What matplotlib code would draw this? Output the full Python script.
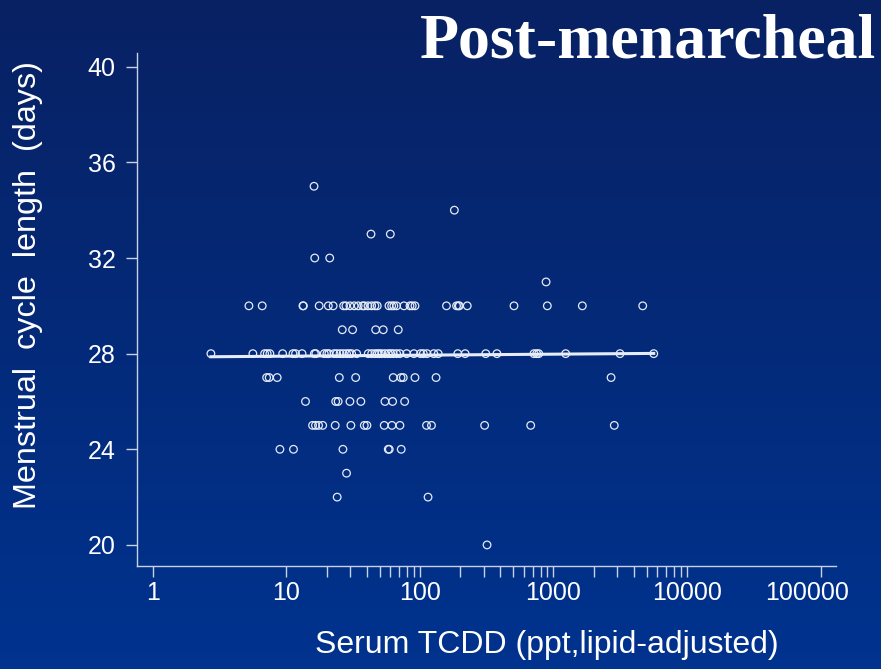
import matplotlib.pyplot as plt
import matplotlib.transforms as mtransforms
import numpy as np

# serum TCDD (ppt) for each observed cycle length (days)
tcdd_35 = [16.1]
tcdd_34 = [181]
tcdd_33 = [43, 60]
tcdd_32 = [16.3, 21.1]
tcdd_31 = [880]
tcdd_30 = [5.24, 6.59, 13.3, 13.4, 17.6, 20.6, 22.4, 26.8, 27.9, 29.9, 32.2, 34.5,
           37.2, 38.3, 40.8, 43.5, 46.0, 47.9, 58.6, 61.4, 63.8, 66.9, 75.9, 84.2,
           87.5, 91.8, 158, 188, 194, 197, 226, 506, 899, 1644, 4656]
tcdd_29 = [26.2, 31.3, 46.6, 53.1, 68.8]
tcdd_28 = [2.72, 5.61, 6.87, 7.18, 7.52, 9.37, 11.2, 11.7, 13.1, 16.2, 16.6, 19.2,
           20.1, 20.8, 22.7, 23.8, 25.2, 26.6, 28.2, 29.5, 30.8, 33.6, 41.0, 43.5,
           46.0, 47.9, 49.6, 51.6, 54.7, 57.9, 60.3, 63.1, 66.9, 70.8, 79.5, 90.1,
           101, 106, 113, 127, 137, 192, 218, 311, 377, 714, 748, 775, 1234, 3148, 5632]
tcdd_27 = [7.11, 7.43, 8.53, 24.9, 33.0, 63.1, 72.1, 75.0, 91.8, 132, 2698]
tcdd_26 = [13.9, 23.4, 24.4, 29.9, 36.1, 54.7, 62.4, 76.8]
tcdd_25 = [15.7, 16.5, 17.4, 18.7, 23.2, 30.4, 38.3, 40.1, 54.0, 61.7, 70.8, 112,
           122, 305, 675, 2852]
tcdd_24 = [8.94, 11.3, 26.5, 57.9, 58.9, 72.4]
tcdd_23 = [28.2]
tcdd_22 = [24.0, 115]
tcdd_20 = [318]

groups = {35: tcdd_35, 34: tcdd_34, 33: tcdd_33, 32: tcdd_32, 31: tcdd_31,
          30: tcdd_30, 29: tcdd_29, 28: tcdd_28, 27: tcdd_27, 26: tcdd_26,
          25: tcdd_25, 24: tcdd_24, 23: tcdd_23, 22: tcdd_22, 20: tcdd_20}
x = np.concatenate([np.array(v, float) for v in groups.values()])
y = np.concatenate([np.full(len(v), k, float) for k, v in groups.items()])

# fitted line
fit_x = [2.72, 5632]
fit_y = [27.87, 28.01]

xticks = [1, 10, 100, 1000, 10000, 100000]
xticklabels = ['1', '10', '100', '1000', '10000', '100000']
yticks = [20, 24, 28, 32, 36, 40]

fig = plt.figure(figsize=(8.81, 6.69), dpi=100)

# background gradient
bg = fig.add_axes([0, 0, 1, 1], zorder=-10)
top = np.array([8, 33, 99]) / 255
bot = np.array([0, 51, 143]) / 255
t = np.linspace(0, 1, 256)[:, None]
grad = (top[None, :] * (1 - t) + bot[None, :] * t)[:, None, :]
bg.imshow(grad, aspect='auto', extent=[0, 1, 0, 1])
bg.axis('off')

ax = fig.add_axes([0.155, 0.154, 0.794, 0.767])
ax.patch.set_alpha(0)

ax.scatter(x, y, s=30, facecolors='none', edgecolors='#e4eaf6', linewidths=0.9, zorder=3)
ax.plot(fit_x, fit_y, color='#e6ecf8', lw=2.2, zorder=4)

ax.set_xscale('log')
ax.set_xlim(0.755, 130600)
ax.set_ylim(19.12, 40.58)

ax.set_xticks(xticks)
ax.set_xticklabels(xticklabels)
minors = [m * d for d in (10, 100, 1000) for m in range(2, 10)]
ax.set_xticks(minors, minor=True)
ax.set_xticklabels([], minor=True)
ax.set_yticks(yticks)

for s in ['top', 'right']:
    ax.spines[s].set_visible(False)
for s in ['left', 'bottom']:
    ax.spines[s].set_color('#c8d2e6')
    ax.spines[s].set_linewidth(1.0)

ax.tick_params(axis='both', which='both', colors='#c8d2e6', length=8, width=1.0,
               labelcolor='white', labelsize=18)
ax.tick_params(axis='y', pad=7)
ax.tick_params(axis='x', pad=3)
for lab in ax.get_xticklabels() + ax.get_yticklabels():
    lab.set_family('Liberation Sans')

last = ax.get_xticklabels()[-1]
last.set_transform(last.get_transform() + mtransforms.ScaledTranslation(-0.14, 0, fig.dpi_scale_trans))

fig.text(0.994, (669 - 57) / 669, 'Post-menarcheal', ha='right', va='baseline',
         color='white', fontsize=46, fontweight='bold', family='Liberation Serif')
fig.text(28 / 881, (669 - 285) / 669, 'Menstrual  cycle  length  (days)', rotation=90,
         ha='center', va='center', color='white', fontsize=23.3, family='Liberation Sans')
fig.text(546.5 / 881, (669 - 653) / 669, 'Serum TCDD (ppt,lipid-adjusted)', ha='center',
         va='baseline', color='white', fontsize=23, family='Liberation Sans')

fig.savefig('out.png', dpi=100)
